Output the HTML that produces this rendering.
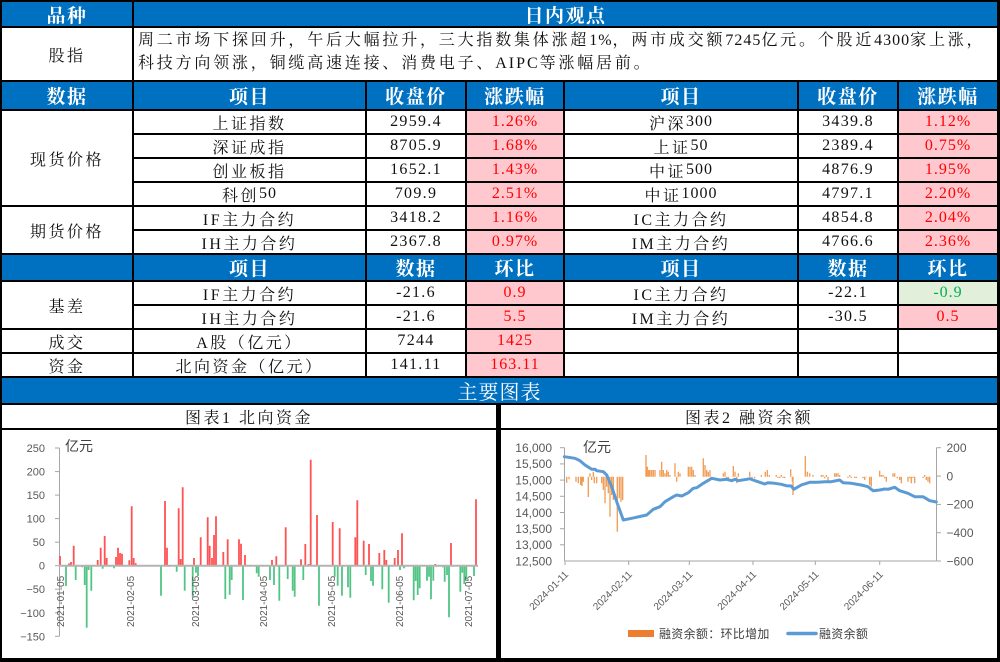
<!DOCTYPE html>
<html><head><meta charset="utf-8">
<style>
*{margin:0;padding:0;box-sizing:border-box}
html,body{width:1000px;height:662px;overflow:hidden;background:#000}
#w{position:relative;width:1000px;height:662px;background:#000}
.c{position:absolute;background:#fff;display:flex;align-items:center;justify-content:center;font-family:"Liberation Serif","Noto Serif CJK SC",serif;font-size:16px;color:#111;letter-spacing:2.5px;white-space:nowrap}
.h{background:#0070c0;color:#fff;font-weight:bold;font-size:19px;letter-spacing:1.5px}
.p{background:#ffc7ce;color:#f00;letter-spacing:1px}
.g{background:#e2efda;color:#00b050;letter-spacing:1px}
.n{letter-spacing:1.3px}
.t{display:block;padding:1px 0 0 4px;line-height:23px;letter-spacing:2.8px}
.d{letter-spacing:1px}
.ti{font-size:16px;letter-spacing:2.5px;color:#111}
svg{position:absolute;left:0;top:0}
</style></head><body><div id="w">
<!-- row 0 -->
<div class="c h" style="left:2px;top:2px;width:130px;height:24px">品种</div>
<div class="c h" style="left:134px;top:2px;width:863px;height:24px">日内观点</div>
<!-- row 1 -->
<div class="c" style="left:2px;top:28px;width:130px;height:52px">股指</div>
<div class="c t" style="left:134px;top:28px;width:863px;height:52px">周二市场下探回升，午后大幅拉升，三大指数集体涨超<span class="d">1%</span>，两市成交额<span class="d">7245</span>亿元。个股近<span class="d">4300</span>家上涨，<br>科技方向领涨，铜缆高速连接、消费电子、<span style="letter-spacing:2px">AIPC</span>等涨幅居前。</div>
<!-- header 2 -->
<div class="c h" style="left:2px;top:82px;width:130px;height:27px">数据</div>
<div class="c h" style="left:134px;top:82px;width:231px;height:27px">项目</div>
<div class="c h" style="left:367px;top:82px;width:98px;height:27px">收盘价</div>
<div class="c h" style="left:467px;top:82px;width:96px;height:27px">涨跌幅</div>
<div class="c h" style="left:565px;top:82px;width:232px;height:27px">项目</div>
<div class="c h" style="left:799px;top:82px;width:98px;height:27px">收盘价</div>
<div class="c h" style="left:899px;top:82px;width:98px;height:27px">涨跌幅</div>
<!-- spot rows -->
<div class="c" style="left:2px;top:111px;width:130px;height:94px">现货价格</div>
<div class="c" style="left:2px;top:207px;width:130px;height:46px">期货价格</div>

<div class="c" style="left:134px;top:111px;width:231px;height:22px">上证指数</div>
<div class="c n" style="left:367px;top:111px;width:98px;height:22px">2959.4</div>
<div class="c p" style="left:467px;top:111px;width:96px;height:22px">1.26%</div>
<div class="c" style="left:565px;top:111px;width:232px;height:22px">沪深<span class="d">300</span></div>
<div class="c n" style="left:799px;top:111px;width:98px;height:22px">3439.8</div>
<div class="c p" style="left:899px;top:111px;width:98px;height:22px">1.12%</div>

<div class="c" style="left:134px;top:135px;width:231px;height:22px">深证成指</div>
<div class="c n" style="left:367px;top:135px;width:98px;height:22px">8705.9</div>
<div class="c p" style="left:467px;top:135px;width:96px;height:22px">1.68%</div>
<div class="c" style="left:565px;top:135px;width:232px;height:22px">上证<span class="d">50</span></div>
<div class="c n" style="left:799px;top:135px;width:98px;height:22px">2389.4</div>
<div class="c p" style="left:899px;top:135px;width:98px;height:22px">0.75%</div>

<div class="c" style="left:134px;top:159px;width:231px;height:22px">创业板指</div>
<div class="c n" style="left:367px;top:159px;width:98px;height:22px">1652.1</div>
<div class="c p" style="left:467px;top:159px;width:96px;height:22px">1.43%</div>
<div class="c" style="left:565px;top:159px;width:232px;height:22px">中证<span class="d">500</span></div>
<div class="c n" style="left:799px;top:159px;width:98px;height:22px">4876.9</div>
<div class="c p" style="left:899px;top:159px;width:98px;height:22px">1.95%</div>

<div class="c" style="left:134px;top:183px;width:231px;height:22px">科创<span class="d">50</span></div>
<div class="c n" style="left:367px;top:183px;width:98px;height:22px">709.9</div>
<div class="c p" style="left:467px;top:183px;width:96px;height:22px">2.51%</div>
<div class="c" style="left:565px;top:183px;width:232px;height:22px">中证<span class="d">1000</span></div>
<div class="c n" style="left:799px;top:183px;width:98px;height:22px">4797.1</div>
<div class="c p" style="left:899px;top:183px;width:98px;height:22px">2.20%</div>

<div class="c" style="left:134px;top:207px;width:231px;height:22px">IF主力合约</div>
<div class="c n" style="left:367px;top:207px;width:98px;height:22px">3418.2</div>
<div class="c p" style="left:467px;top:207px;width:96px;height:22px">1.16%</div>
<div class="c" style="left:565px;top:207px;width:232px;height:22px">IC主力合约</div>
<div class="c n" style="left:799px;top:207px;width:98px;height:22px">4854.8</div>
<div class="c p" style="left:899px;top:207px;width:98px;height:22px">2.04%</div>

<div class="c" style="left:134px;top:231px;width:231px;height:22px">IH主力合约</div>
<div class="c n" style="left:367px;top:231px;width:98px;height:22px">2367.8</div>
<div class="c p" style="left:467px;top:231px;width:96px;height:22px">0.97%</div>
<div class="c" style="left:565px;top:231px;width:232px;height:22px">IM主力合约</div>
<div class="c n" style="left:799px;top:231px;width:98px;height:22px">4766.6</div>
<div class="c p" style="left:899px;top:231px;width:98px;height:22px">2.36%</div>
<!-- header 3 -->
<div class="c h" style="left:2px;top:255px;width:130px;height:25px"></div>
<div class="c h" style="left:134px;top:255px;width:231px;height:25px">项目</div>
<div class="c h" style="left:367px;top:255px;width:98px;height:25px">数据</div>
<div class="c h" style="left:467px;top:255px;width:96px;height:25px">环比</div>
<div class="c h" style="left:565px;top:255px;width:232px;height:25px">项目</div>
<div class="c h" style="left:799px;top:255px;width:98px;height:25px">数据</div>
<div class="c h" style="left:899px;top:255px;width:98px;height:25px">环比</div>
<!-- basis rows -->
<div class="c" style="left:2px;top:282px;width:130px;height:46px">基差</div>
<div class="c" style="left:134px;top:282px;width:231px;height:22px">IF主力合约</div>
<div class="c n" style="left:367px;top:282px;width:98px;height:22px">-21.6</div>
<div class="c p" style="left:467px;top:282px;width:96px;height:22px">0.9</div>
<div class="c" style="left:565px;top:282px;width:232px;height:22px">IC主力合约</div>
<div class="c n" style="left:799px;top:282px;width:98px;height:22px">-22.1</div>
<div class="c g" style="left:899px;top:282px;width:98px;height:22px">-0.9</div>

<div class="c" style="left:134px;top:306px;width:231px;height:22px">IH主力合约</div>
<div class="c n" style="left:367px;top:306px;width:98px;height:22px">-21.6</div>
<div class="c p" style="left:467px;top:306px;width:96px;height:22px">5.5</div>
<div class="c" style="left:565px;top:306px;width:232px;height:22px">IM主力合约</div>
<div class="c n" style="left:799px;top:306px;width:98px;height:22px">-30.5</div>
<div class="c p" style="left:899px;top:306px;width:98px;height:22px">0.5</div>

<div class="c" style="left:2px;top:330px;width:130px;height:22px">成交</div>
<div class="c" style="left:134px;top:330px;width:231px;height:22px">A股（亿元）</div>
<div class="c n" style="left:367px;top:330px;width:98px;height:22px">7244</div>
<div class="c p" style="left:467px;top:330px;width:96px;height:22px">1425</div>
<div class="c" style="left:565px;top:330px;width:232px;height:22px"></div>
<div class="c" style="left:799px;top:330px;width:98px;height:22px"></div>
<div class="c" style="left:899px;top:330px;width:98px;height:22px"></div>

<div class="c" style="left:2px;top:354px;width:130px;height:22px">资金</div>
<div class="c" style="left:134px;top:354px;width:231px;height:22px">北向资金（亿元）</div>
<div class="c n" style="left:367px;top:354px;width:98px;height:22px">141.11</div>
<div class="c p" style="left:467px;top:354px;width:96px;height:22px">163.11</div>
<div class="c" style="left:565px;top:354px;width:232px;height:22px"></div>
<div class="c" style="left:799px;top:354px;width:98px;height:22px"></div>
<div class="c" style="left:899px;top:354px;width:98px;height:22px"></div>
<!-- charts header -->
<div class="c h" style="left:2px;top:378px;width:995px;height:25px;font-weight:normal;font-size:20px;letter-spacing:1px">主要图表</div>
<div class="c ti" style="left:2px;top:405px;width:494px;height:23px">图表1 北向资金</div>
<div class="c ti" style="left:501px;top:405px;width:496px;height:23px">图表2 融资余额</div>
<div class="c" style="left:2px;top:430px;width:494px;height:228px"></div>
<div class="c" style="left:501px;top:430px;width:496px;height:228px"></div>

<svg width="1000" height="662" viewBox="0 0 1000 662">
<!-- Chart 1 -->
<g font-family="Liberation Sans, Noto Sans CJK SC, sans-serif" fill="#595959" font-size="11" text-anchor="end">
<text x="45" y="452">250</text>
<text x="45" y="475.6">200</text>
<text x="45" y="499.1">150</text>
<text x="45" y="522.6">100</text>
<text x="45" y="546.2">50</text>
<text x="45" y="569.7">0</text>
<text x="45" y="593.2">−50</text>
<text x="45" y="616.8">−100</text>
<text x="45" y="640.3">−150</text>
</g>
<g stroke="#a6a6a6" stroke-width="1">
<line x1="59.5" y1="448" x2="59.5" y2="636.3"/>
<line x1="55" y1="448" x2="59.5" y2="448"/>
<line x1="55" y1="471.6" x2="59.5" y2="471.6"/>
<line x1="55" y1="495.1" x2="59.5" y2="495.1"/>
<line x1="55" y1="518.6" x2="59.5" y2="518.6"/>
<line x1="55" y1="542.2" x2="59.5" y2="542.2"/>
<line x1="55" y1="565.7" x2="59.5" y2="565.7"/>
<line x1="55" y1="589.2" x2="59.5" y2="589.2"/>
<line x1="55" y1="612.8" x2="59.5" y2="612.8"/>
<line x1="55" y1="636.3" x2="59.5" y2="636.3"/>
</g>
<text x="65" y="451" font-family="Liberation Sans, Noto Sans CJK SC, sans-serif" font-size="14" fill="#404040">亿元</text>
<path fill="none" stroke="#ff5252" stroke-width="1.8" d="M60 565.7V556M69 565.7V563.5M71 565.7V562M73.7 565.7V545.7M97.7 565.7V560M100.7 565.7V547.7M104.7 565.7V536M106.7 565.7V558M116 565.7V557M118 565.7V547.7M120 565.7V553M122 565.7V553.7M129.3 565.7V560.3M131.7 565.7V506.3M133.7 565.7V558M135.7 565.7V563.3M165 565.7V501M167 565.7V547.7M178.7 565.7V508.3M180.7 565.7V559M182.7 565.7V487.3M194 565.7V558M200.7 565.7V537.3M207.7 565.7V517.3M209.7 565.7V545.7M212 565.7V558M214 565.7V535M216 565.7V516.3M223.3 565.7V552M227.7 565.7V539.3M239 565.7V539.3M241 565.7V543.7M245 565.7V555M272 565.7V560M276.3 565.7V556.3M285.7 565.7V527.3M301 565.7V559.3M305.3 565.7V544M308.7 565.7V564M310.7 565.7V459.7M317 565.7V515M332.7 565.7V522M339.7 565.7V528.3M355.3 565.7V537.3M357.3 565.7V500.3M363.7 565.7V540.7M369 565.7V544M379.3 565.7V553M384.3 565.7V550M386.3 565.7V560M394.7 565.7V558M398 565.7V550M402 565.7V533.3M435.3 565.7V564M451 565.7V543M476 565.7V499.3"/>
<path fill="none" stroke="#52c585" stroke-width="1.8" d="M66 565.7V586M75.7 565.7V580M82 565.7V567.3M84.7 565.7V585M86.7 565.7V627.7M88.7 565.7V570M91.3 565.7V590.7M102.7 565.7V568.7M114 565.7V568.3M161 565.7V595.7M169 565.7V566.7M176.7 565.7V571.7M184.7 565.7V590.7M192.7 565.7V596.7M196 565.7V572.7M198 565.7V576M225.3 565.7V599M229.7 565.7V594.7M231.7 565.7V580M243 565.7V600M256.7 565.7V573.3M258.7 565.7V576.7M270 565.7V580M274 565.7V585M279.3 565.7V600.7M287.7 565.7V579M292.7 565.7V590.7M294.7 565.7V596.7M303.3 565.7V580M319 565.7V605.7M334.7 565.7V576.7M337.7 565.7V585.7M342 565.7V595.7M348 565.7V587.3M350.3 565.7V597.7M365.7 565.7V575M371 565.7V581M373 565.7V585.7M382.3 565.7V589.3M388.7 565.7V602.7M400 565.7V570M404 565.7V568.3M413.7 565.7V600.3M415.7 565.7V581M417.7 565.7V595M419.7 565.7V588.3M427 565.7V580.7M429 565.7V576.7M431 565.7V599.3M433.3 565.7V580.7M442.7 565.7V567.3M444.7 565.7V581.7M447 565.7V575M449 565.7V617.3M460.3 565.7V591.7M462.3 565.7V572.7M464.3 565.7V584M466.3 565.7V579.3M474 565.7V576"/>
<line x1="59" y1="565.7" x2="478" y2="565.7" stroke="#b3b3b3" stroke-width="2"/>
<g font-family="Liberation Sans, sans-serif" font-size="10" fill="#595959">
<text x="64" y="627" transform="rotate(-90 64 627)">2021-01-05</text>
<text x="134" y="627" transform="rotate(-90 134 627)">2021-02-05</text>
<text x="199" y="627" transform="rotate(-90 199 627)">2021-03-05</text>
<text x="267" y="627" transform="rotate(-90 267 627)">2021-04-05</text>
<text x="335" y="627" transform="rotate(-90 335 627)">2021-05-05</text>
<text x="403" y="627" transform="rotate(-90 403 627)">2021-06-05</text>
<text x="472" y="627" transform="rotate(-90 472 627)">2021-07-05</text>
</g>

<!-- Chart 2 -->
<g font-family="Liberation Sans, sans-serif" fill="#595959" font-size="12" text-anchor="end">
<text x="552" y="452">16,000</text>
<text x="552" y="468.2">15,500</text>
<text x="552" y="484.4">15,000</text>
<text x="552" y="500.6">14,500</text>
<text x="552" y="516.8">14,000</text>
<text x="552" y="533">13,500</text>
<text x="552" y="549.1">13,000</text>
<text x="552" y="565.3">12,500</text>
</g>
<g font-family="Liberation Sans, sans-serif" fill="#595959" font-size="12">
<text x="946.5" y="452">200</text>
<text x="946.5" y="480.4">0</text>
<text x="946.5" y="508.7">−200</text>
<text x="946.5" y="537">−400</text>
<text x="946.5" y="565.3">−600</text>
</g>
<g stroke="#a6a6a6" stroke-width="1">
<line x1="564.5" y1="447.7" x2="564.5" y2="561"/>
<line x1="936.5" y1="447.7" x2="936.5" y2="561"/>
<line x1="564.5" y1="561" x2="936.5" y2="561"/>
<line x1="560" y1="447.7" x2="564.5" y2="447.7"/>
<line x1="560" y1="463.9" x2="564.5" y2="463.9"/>
<line x1="560" y1="480.1" x2="564.5" y2="480.1"/>
<line x1="560" y1="496.3" x2="564.5" y2="496.3"/>
<line x1="560" y1="512.5" x2="564.5" y2="512.5"/>
<line x1="560" y1="528.7" x2="564.5" y2="528.7"/>
<line x1="560" y1="544.8" x2="564.5" y2="544.8"/>
<line x1="936.5" y1="447.7" x2="941" y2="447.7"/>
<line x1="936.5" y1="476.1" x2="941" y2="476.1"/>
<line x1="936.5" y1="504.4" x2="941" y2="504.4"/>
<line x1="936.5" y1="532.7" x2="941" y2="532.7"/>
<line x1="936.5" y1="561" x2="941" y2="561"/>
<line x1="565" y1="561" x2="565" y2="565"/>
<line x1="628.7" y1="561" x2="628.7" y2="565"/>
<line x1="689.3" y1="561" x2="689.3" y2="565"/>
<line x1="753" y1="561" x2="753" y2="565"/>
<line x1="815.3" y1="561" x2="815.3" y2="565"/>
<line x1="879.7" y1="561" x2="879.7" y2="565"/>
</g>
<text x="583" y="452" font-family="Liberation Sans, Noto Sans CJK SC, sans-serif" font-size="14" fill="#404040">亿元</text>
<path fill="none" stroke="#f29a50" stroke-width="1.3" d="M566.7 476.7V482.7M569 476.7V479.3M576 476.7V481.7M578.3 476.7V483.3M580.7 476.7V485M582 476.7V486M583.3 476.7V481.7M588.3 476.7V497M590 476.7V473.3M591.7 476.7V480M593.3 476.7V471.7M594.3 476.7V483.3M596.7 476.7V483.3M601.7 476.7V483.3M603.3 476.7V490M605 476.7V503.3M606.7 476.7V486.7M608.3 476.7V493.3M610 476.7V516.7M611.7 476.7V495M613.3 476.7V500M617.3 476.7V531.7M619.3 476.7V498.3M621 476.7V501.7M622.7 476.7V500M646 476.7V455M647.3 476.7V466.7M648.7 476.7V470M650 476.7V470M651.7 476.7V470M653.3 476.7V470M655 476.7V470M660 476.7V470M661.7 476.7V461.7M663.3 476.7V470M665 476.7V473.3M666.7 476.7V470M668.3 476.7V471.7M670 476.7V475M675 476.7V463.3M676.7 476.7V481.7M678.3 476.7V471.7M680 476.7V473.3M688.3 476.7V466.7M690 476.7V466.7M691.7 476.7V466.7M693.3 476.7V470M695 476.7V475M703.3 476.7V458.3M705 476.7V465M706.7 476.7V470M708.3 476.7V471.7M710 476.7V470M723.3 476.7V473.3M725 476.7V471.7M726.7 476.7V478.3M728.3 476.7V480M733.3 476.7V466M735 476.7V471.7M736.7 476.7V483.3M738.3 476.7V473.3M749.7 476.7V471.7M752 476.7V478.3M754.7 476.7V478.3M761.3 476.7V475M765.3 476.7V471.7M767.3 476.7V470M769.3 476.7V475M776.3 476.7V475M778 476.7V478M779.7 476.7V478M781.3 476.7V475M783 476.7V478M784.7 476.7V478M790.7 476.7V469.3M792.3 476.7V481.7M793 476.7V495M805.3 476.7V456M807.3 476.7V471.7M809.7 476.7V473.3M813 476.7V475M821.3 476.7V475M823 476.7V475M824.7 476.7V478.3M826.3 476.7V475M828 476.7V481.7M834.7 476.7V473.3M836.3 476.7V473.3M838 476.7V473.3M839.7 476.7V475M848 476.7V478M849.7 476.7V475M851.3 476.7V478M854.7 476.7V478M856.3 476.7V478M863 476.7V478.3M864.7 476.7V480M866.3 476.7V477.3M869.7 476.7V485M871.3 476.7V486.7M879.7 476.7V470.7M881.3 476.7V475M883 476.7V475M884.7 476.7V478.3M886.3 476.7V481.7M893 476.7V473.3M894.7 476.7V473.3M897.3 476.7V478.3M899.7 476.7V480M901.3 476.7V483.3M908 476.7V481.7M909.7 476.7V478.3M911.3 476.7V483.3M913 476.7V478M914.7 476.7V483.3M923 476.7V478M924.7 476.7V475M926.3 476.7V480M928 476.7V481.7M929.7 476.7V483.3"/>
<polyline fill="none" stroke="#5b9bd5" stroke-width="3" stroke-linejoin="round" stroke-linecap="round" points="564.3,456.7 575,458.3 580,460.7 585,465 591.7,469.3 595,469.3 596.7,470.7 603.3,471.7 606.7,475 611.7,486.7 616.7,501.7 623.3,520 631.7,518.3 646.7,515 653.3,509.3 660,506.7 665,501.7 673.3,496.7 676.7,495 681.7,496 688.3,492.7 693.3,488.3 696.7,487.7 703.3,483.3 711.7,478.3 720,480 726.7,479.3 731.7,480.7 735,479.3 738.3,480.7 746.7,479.3 750,478.7 753,480 758,481.7 764.7,484 768,482.7 774.7,483.3 781.3,484.3 786.3,485.7 791.3,486 793.7,489.3 801.3,485 809.7,482.3 818,482.3 824.7,481.7 831.3,481.7 839.7,480 843,482.7 851.3,483.3 861.3,485 868,486.7 873,490.7 879.7,490 884.7,489 888,489.3 894.7,487.3 899.7,490.7 908,493.3 914.7,496.7 923,496.7 929.7,500.7 936.3,502"/>
<g font-family="Liberation Sans, sans-serif" font-size="10" fill="#595959" text-anchor="end">
<text x="569" y="575" transform="rotate(-45 569 575)">2024-01-11</text>
<text x="632.7" y="575" transform="rotate(-45 632.7 575)">2024-02-11</text>
<text x="693.3" y="575" transform="rotate(-45 693.3 575)">2024-03-11</text>
<text x="757" y="575" transform="rotate(-45 757 575)">2024-04-11</text>
<text x="819.3" y="575" transform="rotate(-45 819.3 575)">2024-05-11</text>
<text x="883.7" y="575" transform="rotate(-45 883.7 575)">2024-06-11</text>
</g>
<rect x="628" y="630" width="26" height="7" fill="#ed7d31"/>
<text x="659" y="638" font-family="Liberation Sans, Noto Sans CJK SC, sans-serif" font-size="12" fill="#404040" letter-spacing="0.3">融资余额：环比增加</text>
<line x1="788" y1="633.5" x2="816" y2="633.5" stroke="#5b9bd5" stroke-width="3.5" stroke-linecap="round"/>
<text x="819" y="638" font-family="Liberation Sans, Noto Sans CJK SC, sans-serif" font-size="12" fill="#404040" letter-spacing="0.3">融资余额</text>
</svg>
</div></body></html>
